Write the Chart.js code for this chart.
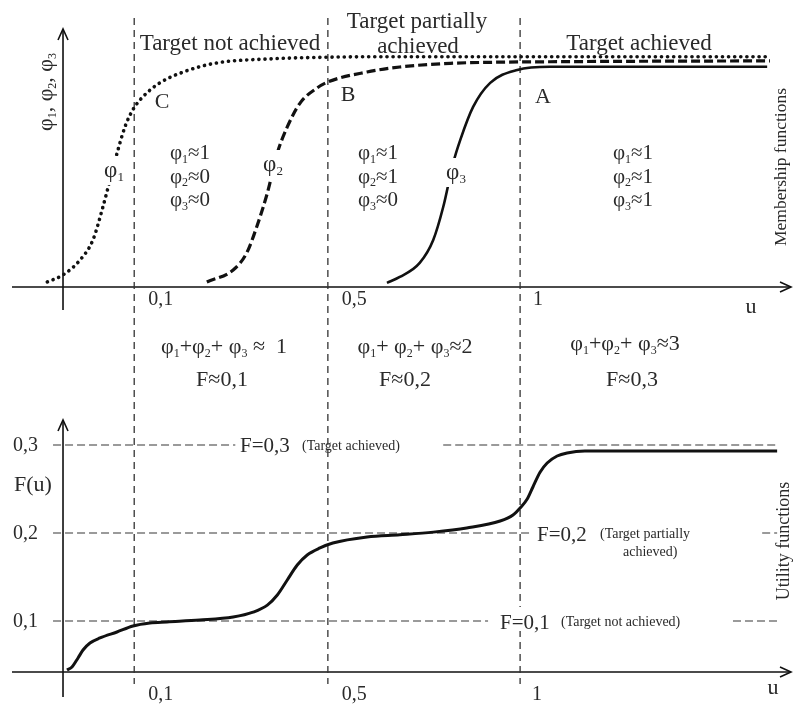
<!DOCTYPE html>
<html>
<head>
<meta charset="utf-8">
<script src="https://cdn.jsdelivr.net/npm/chart.js@4"></script>
<style>
  html, body { margin: 0; padding: 0; background: #fff; }
  canvas { display: block; }
</style>
</head>
<body>
<canvas id="chart" width="794" height="704"></canvas>
<script>
// x is a schematic position along the u axis: 0 = origin, 100 = end of the axis
const uTickLabels = ['0,1', '0,5', '1'];
const uTickPos = [10, 37.2, 64.2];

// membership functions (top panel)
const phi1X = [-2.2, 0, 2.4, 4.2, 5.6, 6.6, 7.6, 8.7, 9.8, 11.2, 13.6, 16.9, 21.6, 28.7, 37.1, 45, 54.4, 65, 75.4, 87, 99.3];
const phi1Y = [0.022, 0.053, 0.119, 0.207, 0.352, 0.471, 0.590, 0.705, 0.780, 0.837, 0.899, 0.947, 0.987, 1.004, 1.012, 1.014, 1.014, 1.014, 1.014, 1.014, 1.014];
const phi2X = [20.2, 23.9, 25.8, 27.2, 28.7, 30.1, 31.5, 33.3, 35.7, 37.2, 42.7, 47.3, 54.4, 61, 68.4, 80, 90, 99.3];
const phi2Y = [0.022, 0.075, 0.150, 0.264, 0.414, 0.590, 0.705, 0.810, 0.877, 0.903, 0.947, 0.969, 0.985, 0.990, 0.992, 0.994, 0.995, 0.996];
const phi3X = [45.5, 47.3, 50.1, 52.0, 53.4, 54.8, 55.8, 57.6, 60.0, 63.8, 68.4, 74, 80.1, 90, 98.9];
const phi3Y = [0.018, 0.044, 0.106, 0.207, 0.352, 0.546, 0.648, 0.793, 0.899, 0.956, 0.970, 0.970, 0.970, 0.970, 0.970];

// utility function (bottom panel)
const fX = [0.56, 1.26, 2.11, 2.81, 3.79, 5.2, 7.58, 9.83, 12.2, 14.6, 19.2, 23.9, 26.7, 28.7, 30.1, 31.5, 32.9, 34.3, 36.1, 37.9, 42.7, 47.3, 52.0, 56.7, 61.4, 63.2, 64.2, 65.2, 66.0, 67.0, 68.0, 69.4, 70.8, 73.3, 78.2, 89.5, 100.3];
const fY = [0.0443, 0.0477, 0.058, 0.067, 0.075, 0.0807, 0.0875, 0.0943, 0.0977, 0.0989, 0.101, 0.1045, 0.110, 0.118, 0.1295, 0.1466, 0.1636, 0.175, 0.183, 0.1886, 0.1955, 0.198, 0.201, 0.2057, 0.2136, 0.2205, 0.2284, 0.2386, 0.2523, 0.269, 0.2795, 0.2875, 0.291, 0.2932, 0.2932, 0.2932, 0.2932];
const fLevels = [0.1, 0.2, 0.3];
const fTickLabels = ['0,1', '0,2', '0,3'];
const fBase = 0.042;

const pts = (xs, ys) => xs.map((x, i) => ({ x: x, y: ys[i] }));

const SERIF = '"Liberation Serif", "DejaVu Serif", serif';
const INK = '#2a2a2a';

// text with "_n" subscripts
function rich(ctx, str, x, y, size, align) {
  const parts = [];
  for (let i = 0; i < str.length; i++) {
    if (str[i] === '_' && i + 1 < str.length) { parts.push({ t: str[i + 1], sub: true }); i++; }
    else parts.push({ t: str[i], sub: false });
  }
  let w = 0;
  parts.forEach(p => {
    ctx.font = (p.sub ? Math.round(size * 0.55) : size) + 'px ' + SERIF;
    p.w = ctx.measureText(p.t).width;
    w += p.w;
  });
  let cx = align === 'center' ? x - w / 2 : align === 'right' ? x - w : x;
  ctx.textAlign = 'left';
  ctx.textBaseline = 'alphabetic';
  parts.forEach(p => {
    ctx.font = (p.sub ? Math.round(size * 0.55) : size) + 'px ' + SERIF;
    ctx.fillText(p.t, cx, p.sub ? y + size * 0.18 : y);
    cx += p.w;
  });
  return w;
}

function plain(ctx, str, x, y, size, align) {
  ctx.font = size + 'px ' + SERIF;
  ctx.textAlign = align || 'left';
  ctx.textBaseline = 'alphabetic';
  ctx.fillText(str, x, y);
}

const diagram = {
  id: 'diagram',
  beforeDatasetsDraw(chart) {
    const { ctx } = chart;
    const sx = chart.scales.x, sp = chart.scales.y, sf = chart.scales.yF;
    const X = v => sx.getPixelForValue(v);
    ctx.save();

    // axes
    ctx.strokeStyle = '#111';
    ctx.lineWidth = 1.6;
    const x0 = X(0);
    const arrowUp = (x, y) => { ctx.beginPath(); ctx.moveTo(x - 5, y + 11); ctx.lineTo(x, y); ctx.lineTo(x + 5, y + 11); ctx.stroke(); };
    const arrowRight = (x, y) => { ctx.beginPath(); ctx.moveTo(x - 11, y - 5); ctx.lineTo(x, y); ctx.lineTo(x - 11, y + 5); ctx.stroke(); };
    const topBase = sp.getPixelForValue(0);
    const botBase = sf.getPixelForValue(fBase);
    ctx.beginPath();
    ctx.moveTo(x0, topBase + 23); ctx.lineTo(x0, 29);
    ctx.moveTo(12, topBase); ctx.lineTo(791, topBase);
    ctx.moveTo(x0, botBase + 25); ctx.lineTo(x0, 420);
    ctx.moveTo(12, botBase); ctx.lineTo(791, botBase);
    ctx.stroke();
    arrowUp(x0, 29); arrowRight(791, topBase);
    arrowUp(x0, 420); arrowRight(791, botBase);

    // vertical dividers
    ctx.strokeStyle = '#333';
    ctx.lineWidth = 1.3;
    ctx.setLineDash([7, 5]);
    uTickPos.forEach(p => {
      ctx.beginPath(); ctx.moveTo(X(p), 18); ctx.lineTo(X(p), 684); ctx.stroke();
    });

    // horizontal level lines (segments leave room for labels)
    const segs = [
      [[-1.4, 59.7], [94.1, 100.3]],
      [[-1.4, 65.9], [98.2, 100.3]],
      [[-1.4, 24.2], [53.4, 100.4]]
    ];
    ctx.strokeStyle = '#9a9a9a';
    ctx.lineWidth = 2.2;
    ctx.setLineDash([8, 4]);
    fLevels.forEach((lv, i) => {
      const y = sf.getPixelForValue(lv);
      segs[i].forEach(s => { ctx.beginPath(); ctx.moveTo(X(s[0]), y); ctx.lineTo(X(s[1]), y); ctx.stroke(); });
    });

    // the divider is broken behind the F=0,1 label
    ctx.fillStyle = '#fff';
    ctx.fillRect(X(uTickPos[2]) - 4, sf.getPixelForValue(0.1) - 14, 8, 24);
    ctx.restore();
  },
  afterDatasetsDraw(chart) {
    const { ctx } = chart;
    const sx = chart.scales.x, sf = chart.scales.yF;
    const X = v => sx.getPixelForValue(v);
    ctx.save();
    ctx.fillStyle = INK;

    // curve labels, over a white patch that breaks the curve
    const curveLabels = [['φ_1', 114, 177], ['φ_2', 273, 171], ['φ_3', 456, 179]];
    curveLabels.forEach(l => {
      ctx.fillStyle = '#fff';
      ctx.fillRect(l[1] - 13, l[2] - 21, 28, 29);
      ctx.fillStyle = INK;
      rich(ctx, l[0], l[1], l[2], 23, 'center');
    });

    // region titles
    plain(ctx, 'Target not achieved', 230, 50, 23, 'center');
    plain(ctx, 'Target partially', 417, 28, 23, 'center');
    plain(ctx, 'achieved', 418, 53, 23, 'center');
    plain(ctx, 'Target achieved', 639, 50, 23, 'center');
    plain(ctx, 'C', 162, 108, 22, 'center');
    plain(ctx, 'B', 348, 101, 22, 'center');
    plain(ctx, 'A', 543, 103, 22, 'center');

    // membership values
    const blocks = [
      [190, ['φ_1≈1', 'φ_2≈0', 'φ_3≈0']],
      [378, ['φ_1≈1', 'φ_2≈1', 'φ_3≈0']],
      [633, ['φ_1≈1', 'φ_2≈1', 'φ_3≈1']]
    ];
    blocks.forEach(b => b[1].forEach((s, i) => rich(ctx, s, b[0], 159 + i * 23.5, 21, 'center')));

    // sums
    rich(ctx, 'φ_1+φ_2+ φ_3 ≈  1', 224, 353, 22, 'center');
    rich(ctx, 'φ_1+ φ_2+ φ_3≈2', 415, 353, 22, 'center');
    rich(ctx, 'φ_1+φ_2+ φ_3≈3', 625, 350, 22, 'center');
    plain(ctx, 'F≈0,1', 222, 386, 22, 'center');
    plain(ctx, 'F≈0,2', 405, 386, 22, 'center');
    plain(ctx, 'F≈0,3', 632, 386, 22, 'center');

    // u axis ticks
    uTickPos.forEach((p, i) => {
      plain(ctx, uTickLabels[i], X(p) + (i === 2 ? 13 : 14), 305, 20, 'left');
      plain(ctx, uTickLabels[i], X(p) + (i === 2 ? 12 : 14), 700, 20, 'left');
    });
    plain(ctx, 'u', 751, 313, 22, 'center');
    plain(ctx, 'u', 773, 694, 22, 'center');

    // F axis
    fLevels.forEach((lv, i) => plain(ctx, fTickLabels[i], 13, sf.getPixelForValue(lv) + 6, 20, 'left'));
    plain(ctx, 'F(u)', 14, 491, 22, 'left');

    // level labels
    plain(ctx, 'F=0,3', 240, 452, 21, 'left');
    plain(ctx, '(Target achieved)', 302, 450, 14, 'left');
    plain(ctx, 'F=0,2', 537, 541, 21, 'left');
    plain(ctx, '(Target partially', 600, 538, 14, 'left');
    plain(ctx, 'achieved)', 623, 556, 14, 'left');
    plain(ctx, 'F=0,1', 500, 629, 21, 'left');
    plain(ctx, '(Target not achieved)', 561, 626, 14, 'left');

    // rotated titles
    ctx.save();
    ctx.translate(52, 92); ctx.rotate(-Math.PI / 2);
    rich(ctx, 'φ_1, φ_2, φ_3', 0, 0, 22, 'center');
    ctx.restore();
    ctx.save();
    ctx.translate(786, 167); ctx.rotate(-Math.PI / 2);
    plain(ctx, 'Membership functions', 0, 0, 17.5, 'center');
    ctx.restore();
    ctx.save();
    ctx.translate(789, 541); ctx.rotate(-Math.PI / 2);
    plain(ctx, 'Utility functions', 0, 0, 18, 'center');
    ctx.restore();

    ctx.restore();
  }
};

new Chart(document.getElementById('chart'), {
  type: 'line',
  data: {
    datasets: [
      { label: 'φ1', data: pts(phi1X, phi1Y), yAxisID: 'y', borderColor: '#111', borderWidth: 3.6,
        borderDash: [0.1, 6], borderCapStyle: 'round', pointRadius: 0, cubicInterpolationMode: 'monotone' },
      { label: 'φ2', data: pts(phi2X, phi2Y), yAxisID: 'y', borderColor: '#111', borderWidth: 3.2,
        borderDash: [9, 4], pointRadius: 0, cubicInterpolationMode: 'monotone' },
      { label: 'φ3', data: pts(phi3X, phi3Y), yAxisID: 'y', borderColor: '#111', borderWidth: 2.6,
        pointRadius: 0, cubicInterpolationMode: 'monotone' },
      { label: 'F(u)', data: pts(fX, fY), yAxisID: 'yF', borderColor: '#111', borderWidth: 3,
        pointRadius: 0, cubicInterpolationMode: 'monotone' }
    ]
  },
  options: {
    responsive: false,
    animation: false,
    layout: { padding: 0 },
    plugins: { legend: { display: false }, tooltip: { enabled: false } },
    scales: {
      x: { type: 'linear', display: false, min: -8.85, max: 102.67 },
      y: { display: false, min: -1.837, max: 1.264 },
      yF: { display: false, min: 0.00568, max: 0.8057 }
    }
  },
  plugins: [diagram]
});
</script>
</body>
</html>
